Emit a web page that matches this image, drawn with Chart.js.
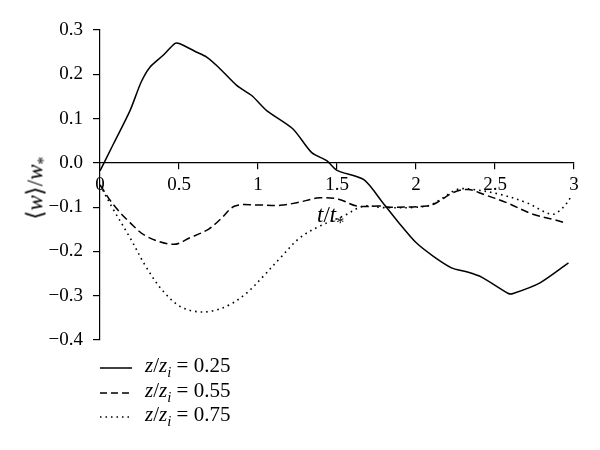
<!DOCTYPE html>
<html>
<head>
<meta charset="utf-8">
<script src="https://cdn.jsdelivr.net/npm/chart.js@4.4.1/dist/chart.umd.min.js"></script>
<style>
  html, body { margin: 0; padding: 0; background: #fff; }
  #wrap { position: relative; width: 600px; height: 450px; font-family: "Liberation Serif", "Times New Roman", serif; color: #000; }
  canvas { position: absolute; left: 0; top: 0; }
  .ov { position: absolute; white-space: nowrap; line-height: 1; }
  .it { font-style: italic; }
  sub { font-size: 70%; vertical-align: -0.35em; line-height: 0; }
  #ytitle { left: 35px; top: 188px; font-size: 23px; transform: translate(-50%, -50%) rotate(-90deg); }
  #xtitle { left: 317px; top: 203px; font-size: 23px; }
  .leg { position: absolute; left: 100px; width: 220px; height: 20px; }
  .leg svg { position: absolute; left: 0; top: 0; }
  .leg .lbl { position: absolute; left: 45px; top: -11px; font-size: 21px; white-space: nowrap; line-height: 1; }
</style>
</head>
<body>
<div id="wrap">
  <canvas id="c" width="600" height="450"></canvas>
  <div class="ov" id="ytitle">⟨<span class="it">w</span>⟩/<span class="it">w</span><sub>*</sub></div>
  <div class="ov" id="xtitle"><span class="it">t</span>/<span class="it">t</span><sub>*</sub></div>
  <div class="leg" style="top:366px"><svg width="34" height="4"><line x1="0" y1="2" x2="32" y2="2" stroke="#000" stroke-width="1.5"/></svg><div class="lbl"><span class="it">z</span>/<span class="it">z</span><sub class="it">i</sub> = 0.25</div></div>
  <div class="leg" style="top:391px"><svg width="34" height="4"><line x1="0" y1="2" x2="32" y2="2" stroke="#000" stroke-width="1.5" stroke-dasharray="7 4"/></svg><div class="lbl"><span class="it">z</span>/<span class="it">z</span><sub class="it">i</sub> = 0.55</div></div>
  <div class="leg" style="top:415px"><svg width="34" height="4"><line x1="0" y1="2" x2="32" y2="2" stroke="#000" stroke-width="1.5" stroke-dasharray="1.5 4"/></svg><div class="lbl"><span class="it">z</span>/<span class="it">z</span><sub class="it">i</sub> = 0.75</div></div>
</div>
<script>
// ---- data ----
const seriesLabels = ["z/zi = 0.25", "z/zi = 0.55", "z/zi = 0.75"];

const t025 = [0, 0.084, 0.19, 0.26, 0.316, 0.40, 0.475, 0.506, 0.60, 0.675, 0.75, 0.865, 0.96, 1.055, 1.22, 1.34, 1.435, 1.5, 1.67, 1.79, 1.9, 2.0, 2.11, 2.225, 2.32, 2.415, 2.585, 2.615, 2.785, 2.965];
const w025 = [-0.018, 0.042, 0.118, 0.182, 0.216, 0.243, 0.27, 0.269, 0.252, 0.239, 0.216, 0.175, 0.152, 0.118, 0.077, 0.023, 0.005, -0.017, -0.038, -0.09, -0.139, -0.18, -0.211, -0.237, -0.246, -0.258, -0.295, -0.295, -0.271, -0.226];

const t055 = [0, 0.084, 0.19, 0.295, 0.464, 0.57, 0.686, 0.76, 0.854, 0.99, 1.14, 1.245, 1.39, 1.51, 1.625, 1.77, 1.835, 2.07, 2.13, 2.236, 2.33, 2.426, 2.574, 2.74, 2.87, 2.94];
const w055 = [-0.05, -0.094, -0.135, -0.166, -0.184, -0.169, -0.15, -0.128, -0.0975, -0.095, -0.096, -0.09, -0.079, -0.082, -0.0975, -0.0975, -0.1, -0.0975, -0.09, -0.067, -0.06, -0.071, -0.09, -0.116, -0.128, -0.135];

const t075 = [0, 0.084, 0.19, 0.295, 0.40, 0.506, 0.612, 0.717, 0.823, 0.928, 1.034, 1.14, 1.266, 1.39, 1.54, 1.67, 1.79, 2.07, 2.17, 2.26, 2.36, 2.53, 2.7, 2.86, 2.93, 2.985];
const w075 = [-0.05, -0.105, -0.169, -0.237, -0.29, -0.324, -0.336, -0.334, -0.32, -0.294, -0.256, -0.215, -0.169, -0.143, -0.12, -0.0975, -0.101, -0.0975, -0.079, -0.06, -0.06, -0.071, -0.09, -0.116, -0.101, -0.075];

const xTicks = [0, 0.5, 1, 1.5, 2, 2.5, 3];
const yTicks = [0.3, 0.2, 0.1, 0.0, -0.1, -0.2, -0.3, -0.4];

function pts(t, w) { return t.map((x, i) => ({ x: x, y: w[i] })); }

const FONT = { family: "'Liberation Serif', 'Times New Roman', serif", size: 19 };

new Chart(document.getElementById('c'), {
  type: 'line',
  data: {
    datasets: [
      { label: seriesLabels[0], data: pts(t025, w025), borderColor: '#000', borderWidth: 1.5, tension: 0.25 },
      { label: seriesLabels[1], data: pts(t055, w055), borderColor: '#000', borderWidth: 1.5, borderDash: [8, 4], tension: 0.35 },
      { label: seriesLabels[2], data: pts(t075, w075), borderColor: '#000', borderWidth: 1.6, borderDash: [1.6, 4], tension: 0.35 }
    ]
  },
  options: {
    responsive: false,
    animation: false,
    events: [],
    elements: { point: { radius: 0 } },
    layout: { padding: { left: 0, right: 26, top: 30, bottom: 110 } },
    plugins: { legend: { display: false }, tooltip: { enabled: false } },
    scales: {
      x: {
        type: 'linear',
        position: { y: 0 },
        min: 0, max: 3,
        afterBuildTicks: s => { s.ticks = xTicks.map(v => ({ value: v })); },
        ticks: { color: '#000', font: FONT, padding: 5, maxRotation: 0, autoSkip: false, callback: v => String(v) },
        grid: { display: true, drawOnChartArea: false, drawTicks: true, tickLength: 6, color: '#000', lineWidth: 1.2 },
        border: { display: true, color: '#000', width: 1.2 }
      },
      y: {
        type: 'linear',
        position: 'left',
        min: -0.4, max: 0.3,
        afterBuildTicks: s => { s.ticks = yTicks.map(v => ({ value: v })); },
        afterFit: s => { s.width = 100; },
        ticks: {
          color: '#000', font: FONT, padding: 10,
          callback: v => (v < -1e-9 ? '\u2212' + Math.abs(v).toFixed(1) : Math.abs(v).toFixed(1))
        },
        grid: { display: true, drawOnChartArea: false, drawTicks: true, tickLength: 7, color: '#000', lineWidth: 1.2 },
        border: { display: true, color: '#000', width: 1.2 }
      }
    }
  }
});
</script>
</body>
</html>
